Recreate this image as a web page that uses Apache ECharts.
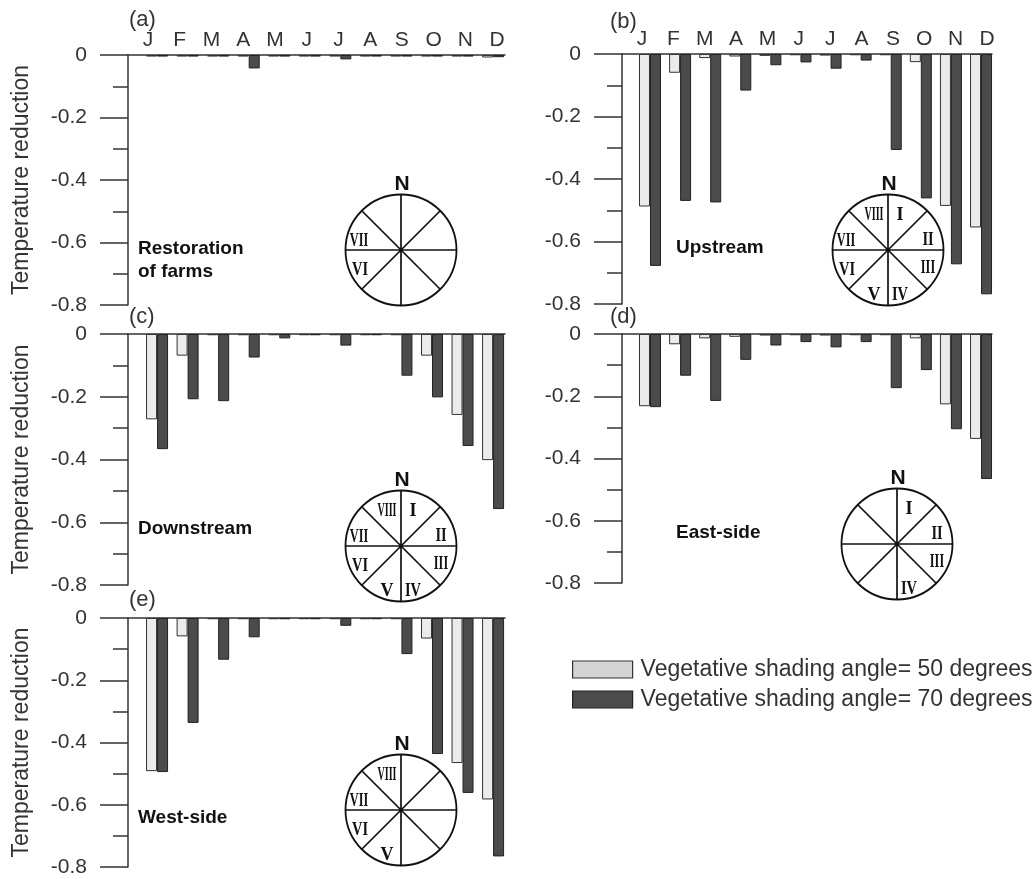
<!DOCTYPE html>
<html>
<head>
<meta charset="utf-8">
<script src="https://cdn.jsdelivr.net/npm/echarts@6/dist/echarts.min.js"></script>
<style>
  html, body { margin: 0; padding: 0; background: #fff; }
  #chart { width: 1032px; height: 879px; }
</style>
</head>
<body>
<div id="chart"></div>
<script>
// Month initials shown along the top of the upper panels
const months = ['J', 'F', 'M', 'A', 'M', 'J', 'J', 'A', 'S', 'O', 'N', 'D'];

// Series names
const name50 = 'Vegetative shading angle= 50 degrees';
const name70 = 'Vegetative shading angle= 70 degrees';

// Monthly temperature reduction for each scenario (50° and 70° shading angle)
const restoration50 = [-0.005, -0.005, -0.005, -0.005, -0.005, -0.005, -0.005, -0.005, -0.005, -0.005, -0.005, -0.008];
const restoration70 = [-0.005, -0.005, -0.005, -0.043, -0.005, -0.005, -0.014, -0.005, -0.005, -0.005, -0.005, -0.007];

const upstream50 = [-0.488, -0.060, -0.013, -0.008, -0.006, -0.004, -0.005, -0.004, -0.004, -0.026, -0.486, -0.555];
const upstream70 = [-0.678, -0.470, -0.475, -0.117, -0.036, -0.027, -0.047, -0.021, -0.307, -0.462, -0.673, -0.769];

const downstream50 = [-0.272, -0.069, -0.004, -0.004, -0.004, -0.004, -0.004, -0.004, -0.004, -0.069, -0.258, -0.402];
const downstream70 = [-0.367, -0.208, -0.214, -0.075, -0.014, -0.004, -0.037, -0.004, -0.133, -0.202, -0.357, -0.558];

const eastside50 = [-0.232, -0.033, -0.014, -0.009, -0.005, -0.004, -0.005, -0.004, -0.004, -0.014, -0.226, -0.337];
const eastside70 = [-0.235, -0.134, -0.215, -0.083, -0.037, -0.026, -0.043, -0.026, -0.174, -0.116, -0.306, -0.466];

const westside50 = [-0.492, -0.059, -0.004, -0.004, -0.004, -0.004, -0.004, -0.004, -0.004, -0.066, -0.466, -0.583];
const westside70 = [-0.495, -0.337, -0.134, -0.062, -0.004, -0.004, -0.025, -0.004, -0.116, -0.437, -0.562, -0.766];

// Compass sectors labelled in each panel's inset
const sectorsRestoration = ['VII', 'VI'];
const sectorsUpstream = ['I', 'II', 'III', 'IV', 'V', 'VI', 'VII', 'VIII'];
const sectorsDownstream = ['I', 'II', 'III', 'IV', 'V', 'VI', 'VII', 'VIII'];
const sectorsEast = ['I', 'II', 'III', 'IV'];
const sectorsWest = ['V', 'VI', 'VII', 'VIII'];

const SANS = "'Liberation Sans', Arial, Helvetica, sans-serif";
const SERIF = "'Liberation Serif', 'Times New Roman', serif";
const AXIS_COLOR = '#333';
const TEXT_COLOR = '#333';

// Column geometry: bar axis range and month-label axis range
const colLeft = { left: 128, width: 377, barMin: 0.049, barMax: 12.39, labMin: 0.37, labMax: 12.25, tagX: 129, textX: 138 };
const colRight = { left: 622, width: 370, barMin: 0.07, barMax: 12.365, labMin: 0.362, labMax: 12.16, tagX: 610, textX: 676 };

const panels = [
  { col: colLeft, top: 55, height: 250, tag: '(a)', tagY: 20, title: 'Restoration\nof farms', titleY: 260, v50: restoration50, v70: restoration70, sectors: sectorsRestoration, compass: [401, 250], months: true, yName: true },
  { col: colRight, top: 54, height: 250, tag: '(b)', tagY: 22, title: 'Upstream', titleY: 248, v50: upstream50, v70: upstream70, sectors: sectorsUpstream, compass: [888, 250], months: true, yName: false },
  { col: colLeft, top: 334, height: 251, tag: '(c)', tagY: 317, title: 'Downstream', titleY: 529, v50: downstream50, v70: downstream70, sectors: sectorsDownstream, compass: [401, 546], months: false, yName: true },
  { col: colRight, top: 334, height: 249, tag: '(d)', tagY: 317, title: 'East-side', titleY: 533, v50: eastside50, v70: eastside70, sectors: sectorsEast, compass: [897, 544], months: false, yName: false },
  { col: colLeft, top: 618, height: 249, tag: '(e)', tagY: 600, title: 'West-side', titleY: 818, v50: westside50, v70: westside70, sectors: sectorsWest, compass: [401, 810], months: false, yName: true }
];

// Where each sector's numeral sits relative to the compass centre
const numeralOffset = {
  'I': [12, -35], 'II': [40, -10], 'III': [40, 18], 'IV': [12, 45],
  'V': [-14, 45], 'VI': [-41, 20], 'VII': [-42, -9], 'VIII': [-14, -35]
};
const numeralScale = { 1: 1, 2: 0.8, 3: 0.68, 4: 0.56 };

function compass(cx, cy, labels) {
  const r = 55.5;
  const d = r * Math.SQRT1_2;
  const line = { stroke: '#111', lineWidth: 1.7 };
  const children = [
    { type: 'circle', shape: { cx: 0, cy: 0, r: r }, style: { fill: '#fff', stroke: '#111', lineWidth: 1.8 } },
    { type: 'line', shape: { x1: 0, y1: -r, x2: 0, y2: r }, style: line },
    { type: 'line', shape: { x1: -r, y1: 0, x2: r, y2: 0 }, style: line },
    { type: 'line', shape: { x1: -d, y1: -d, x2: d, y2: d }, style: line },
    { type: 'line', shape: { x1: -d, y1: d, x2: d, y2: -d }, style: line },
    { type: 'circle', shape: { cx: 0, cy: 0, r: 2 }, style: { fill: '#111' } },
    { type: 'text', x: 1, y: -r - 10, style: { text: 'N', font: 'bold 21px ' + SANS, fill: '#111', align: 'center', textAlign: 'center', verticalAlign: 'middle', textVerticalAlign: 'middle' } }
  ];
  labels.forEach(function (lab) {
    const off = numeralOffset[lab];
    const s = numeralScale[lab.length];
    children.push({
      type: 'text', x: off[0], y: off[1], scaleX: s, scaleY: 1,
      style: { text: lab, font: 'bold 18px ' + SERIF, fill: '#111', align: 'center', textAlign: 'center', verticalAlign: 'middle', textVerticalAlign: 'middle' }
    });
  });
  return { type: 'group', x: cx, y: cy, children: children, z: 100 };
}

const grid = [], xAxis = [], yAxis = [], series = [], graphic = [];

panels.forEach(function (p, i) {
  const c = p.col;
  grid.push({ left: c.left, top: p.top, width: c.width, height: p.height, containLabel: false });

  // axis the bars are placed on
  xAxis.push({
    gridIndex: i, type: 'value', position: 'top', min: c.barMin, max: c.barMax,
    axisLine: { show: true, onZero: false, lineStyle: { color: AXIS_COLOR, width: 1.5 } },
    axisTick: { show: false }, axisLabel: { show: false }, splitLine: { show: false }
  });
  // axis carrying the month initials
  xAxis.push({
    gridIndex: i, type: 'value', position: 'top', min: c.labMin, max: c.labMax,
    axisLine: { show: false }, axisTick: { show: false }, splitLine: { show: false },
    axisLabel: {
      show: p.months, customValues: months.map(function (m, k) { return k + 1; }),
      formatter: function (v) { return months[Math.round(v) - 1] || ''; },
      margin: 4, fontSize: 21, color: TEXT_COLOR, fontFamily: SANS
    }
  });

  yAxis.push({
    gridIndex: i, type: 'value', min: -0.8, max: 0, interval: 0.2, position: 'left',
    axisLine: { show: true, onZero: false, lineStyle: { color: AXIS_COLOR, width: 1.5 } },
    axisTick: { show: true, length: 28, lineStyle: { color: AXIS_COLOR, width: 1.5 } },
    minorTick: { show: true, splitNumber: 2, length: 15, lineStyle: { color: AXIS_COLOR, width: 1.5 } },
    axisLabel: { margin: 41, fontSize: 21, color: TEXT_COLOR, fontFamily: SANS },
    splitLine: { show: false }, minorSplitLine: { show: false },
    name: p.yName ? 'Temperature reduction' : '',
    nameLocation: 'middle', nameGap: 95, nameRotate: 90,
    nameTextStyle: { fontSize: 23, color: TEXT_COLOR, fontFamily: SANS }
  });

  series.push({
    type: 'bar', name: name50, xAxisIndex: 2 * i, yAxisIndex: i,
    barWidth: 11, barGap: '0%',
    data: p.v50.map(function (v, k) { return [k + 1, v]; }),
    itemStyle: { color: '#ebebeb', borderColor: '#333', borderWidth: 1 },
    silent: true
  });
  series.push({
    type: 'bar', name: name70, xAxisIndex: 2 * i, yAxisIndex: i,
    barWidth: 11, barGap: '0%',
    data: p.v70.map(function (v, k) { return [k + 1, v]; }),
    itemStyle: { color: '#4b4b4b', borderColor: '#222', borderWidth: 1 },
    silent: true
  });

  graphic.push({
    type: 'text', x: c.tagX, y: p.tagY,
    style: { text: p.tag, font: '22px ' + SANS, fill: TEXT_COLOR, align: 'left', textAlign: 'left', verticalAlign: 'middle', textVerticalAlign: 'middle' }
  });
  graphic.push({
    type: 'text', x: c.textX, y: p.titleY,
    style: { text: p.title, font: 'bold 19px ' + SANS, lineHeight: 23, fill: '#111', align: 'left', textAlign: 'left', verticalAlign: 'middle', textVerticalAlign: 'middle' }
  });
  graphic.push(compass(p.compass[0], p.compass[1], p.sectors));
});

const chart = echarts.init(document.getElementById('chart'), null, { renderer: 'canvas' });
chart.setOption({
  animation: false,
  backgroundColor: '#fff',
  grid: grid,
  xAxis: xAxis,
  yAxis: yAxis,
  series: series,
  graphic: graphic,
  legend: {
    orient: 'vertical', left: 567, top: 652,
    itemWidth: 60, itemHeight: 17, itemGap: 5, icon: 'rect',
    textStyle: { fontSize: 23, color: TEXT_COLOR, fontFamily: SANS, lineHeight: 25, padding: [0, 0, 0, 3] },
    data: [
      { name: name50, itemStyle: { color: '#d4d4d4', borderColor: '#333', borderWidth: 1.2 } },
      { name: name70, itemStyle: { color: '#4b4b4b', borderColor: '#222', borderWidth: 1.2 } }
    ],
    selectedMode: false
  }
});
</script>
</body>
</html>
